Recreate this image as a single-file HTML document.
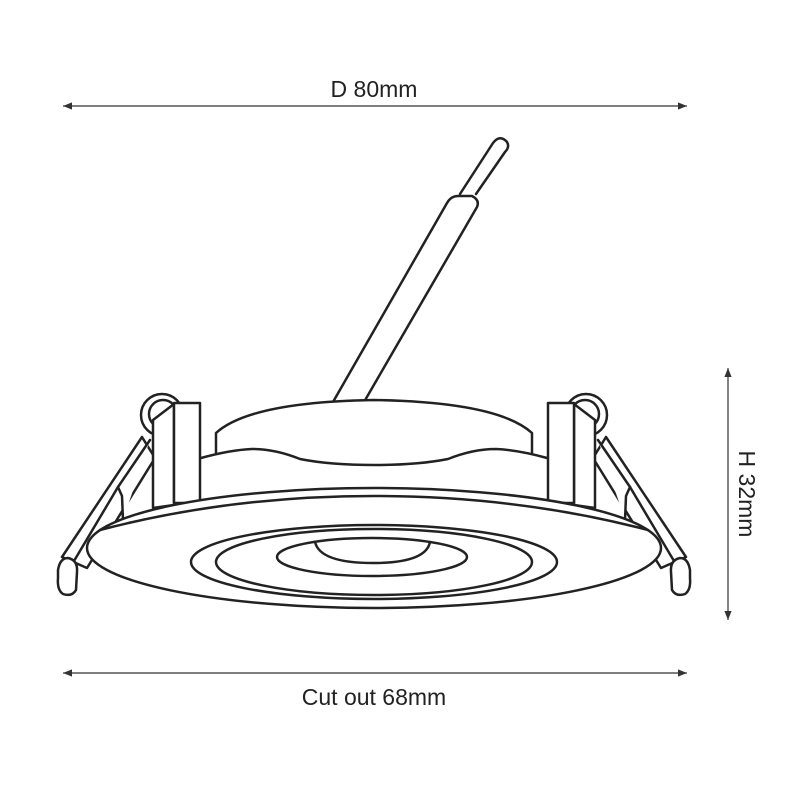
<!DOCTYPE html>
<html><head><meta charset="utf-8"><style>
html,body{margin:0;padding:0;background:#fff;}
svg{display:block}
text{font-family:"Liberation Sans",sans-serif;fill:#222;}
</style></head><body>
<svg width="801" height="801" viewBox="0 0 801 801" xmlns="http://www.w3.org/2000/svg">
<defs>
<marker id="ar" viewBox="0 0 10 10" refX="10" refY="5" markerWidth="9" markerHeight="9" orient="auto-start-reverse" markerUnits="userSpaceOnUse">
<path d="M0,1 L10,5 L0,9 Z" fill="#333"/></marker>
</defs>
<g stroke="#333" stroke-width="1.2" fill="none">
<line x1="63" y1="106" x2="687" y2="106" marker-start="url(#ar)" marker-end="url(#ar)"/>
<line x1="63" y1="673" x2="687" y2="673" marker-start="url(#ar)" marker-end="url(#ar)"/>
<line x1="728" y1="368" x2="728" y2="620" marker-start="url(#ar)" marker-end="url(#ar)"/>
</g>
<text x="374" y="97" font-size="23" text-anchor="middle">D 80mm</text>
<text x="374" y="705" font-size="23" text-anchor="middle">Cut out 68mm</text>
<text x="0" y="0" font-size="23" text-anchor="middle" transform="translate(739,494) rotate(90)">H 32mm</text>

<g stroke="#222" stroke-width="2.5" fill="#fff" stroke-linejoin="round" stroke-linecap="round">
<!-- wire -->
<path d="M460,194 L493,143 Q500,134 507,142 Q510,147 505,152 L476,194"/>
<path d="M333,402 L447,203 Q451,196 458,196 L472,196 Q480,200 477,207 L364,402"/>
<!-- cap -->
<path d="M216,460 L216,433 Q250,402 374,400 Q498,402 532,433 L532,460"/>
<!-- wavy band -->
<path d="M188,500 L188,458 L201,458 Q230,450 252,449 Q275,449 300,459 Q330,465 374,465 Q418,465 448,459 Q473,449 496,449 Q518,450 547,458 L561,458 L561,500"/>
<!-- left bracket -->
<circle cx="162" cy="415" r="21"/>
<circle cx="163" cy="414" r="14"/>
<path d="M142,437 L62,557 L87,568 L155,458 Z"/>
<path d="M150,440 L118,487 L122,496 L123,520"/>
<path d="M118,487 L74,561"/>
<path d="M153,420 L174,404 L174,505 L153,508 Z"/>
<rect x="174" y="403" width="26" height="100"/>
<path d="M58,570 Q60,558 68,558 Q78,560 77,572 L76,590 Q72,597 63,594 Q57,590 58,578 Z"/>
<!-- right bracket -->
<circle cx="586" cy="415" r="21"/>
<circle cx="585" cy="414" r="14"/>
<path d="M606,437 L686,557 L661,568 L593,458 Z"/>
<path d="M598,440 L630,487 L626,496 L625,520"/>
<path d="M630,487 L674,561"/>
<path d="M595,420 L574,404 L574,505 L595,508 Z"/>
<rect x="548" y="403" width="26" height="100"/>
<path d="M690,570 Q688,558 680,558 Q670,560 671,572 L672,590 Q676,597 685,594 Q691,590 690,578 Z"/>
<!-- flange -->
<ellipse cx="374" cy="548" rx="287" ry="60"/>
<path d="M100,530 Q230,496 374,496 Q518,496 648,530" fill="none"/>
<ellipse cx="374" cy="562" rx="183" ry="37"/>
<ellipse cx="374" cy="562" rx="158" ry="33"/>
<ellipse cx="372" cy="557" rx="95" ry="19"/>
<path d="M315,542 Q320,563 373,563 Q426,563 430,542" fill="none"/>
</g>
</svg>
</body></html>
